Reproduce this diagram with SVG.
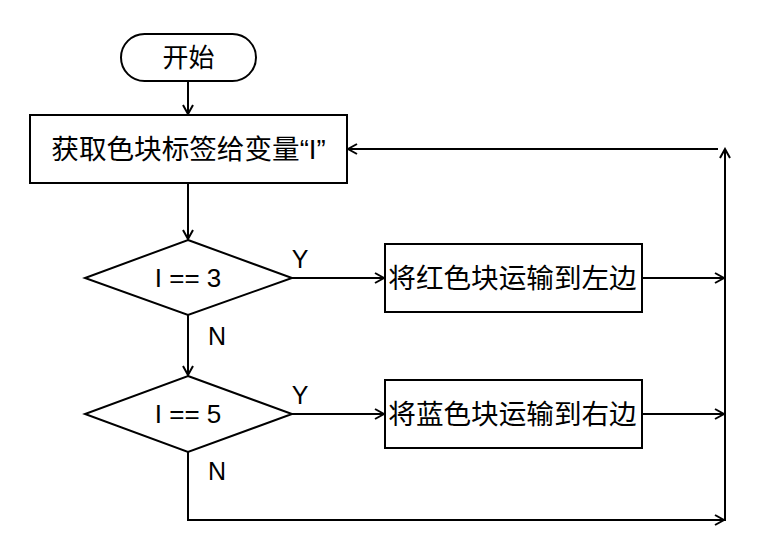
<svg xmlns="http://www.w3.org/2000/svg" width="775" height="558" viewBox="0 0 775 558">
<style>
.shape{fill:#fff;stroke:#000;stroke-width:2}
.line{fill:none;stroke:#000;stroke-width:2}
.cjk{font-family:"Liberation Sans","Noto Sans CJK SC",sans-serif;font-size:27.6px;fill:#000;text-anchor:middle;dominant-baseline:central}
.lat{font-family:"Liberation Sans",Arial,sans-serif;font-size:26px;fill:#000;text-anchor:middle;dominant-baseline:central}
.lbl{font-family:"Liberation Sans",Arial,sans-serif;font-size:25px;fill:#000}
</style>
<defs>
<marker id="arr" markerUnits="userSpaceOnUse" markerWidth="12" markerHeight="12" viewBox="0 0 12 12" refX="10" refY="6" orient="auto">
<path d="M1,1 L10,6 L1,11" fill="none" stroke="#000" stroke-width="2"/>
</marker>
</defs>
<rect width="775" height="558" fill="#fff"/>
<g id="start">
<rect class="shape" x="121" y="34" width="135" height="47" rx="23.5" ry="23.5"/>
<text class="cjk" x="188.5" y="57.5" style="font-size:26px">开始</text>
</g>
<g id="get">
<rect class="shape" x="30" y="115" width="317" height="68"/>
<text class="cjk" x="188.5" y="149">获取色块标签给变量“I”</text>
</g>
<g id="dec1">
<polygon class="shape" points="188,240 292,278 188,315 85,278"/>
<text class="lat" x="188" y="278">I == 3</text>
</g>
<g id="red">
<rect class="shape" x="385" y="244" width="257" height="68"/>
<text class="cjk" x="512.5" y="278">将红色块运输到左边</text>
</g>
<g id="dec2">
<polygon class="shape" points="188,376 292,414 188,452 85,414"/>
<text class="lat" x="188" y="414">I == 5</text>
</g>
<g id="blue">
<rect class="shape" x="385" y="380" width="257" height="68"/>
<text class="cjk" x="512.5" y="414">将蓝色块运输到右边</text>
</g>
<g id="connectors">
<line class="line" x1="188" y1="81" x2="188" y2="114" marker-end="url(#arr)"/>
<line class="line" x1="188" y1="183" x2="188" y2="239" marker-end="url(#arr)"/>
<line class="line" x1="292" y1="278" x2="384" y2="278" marker-end="url(#arr)"/>
<line class="line" x1="188" y1="315" x2="188" y2="375" marker-end="url(#arr)"/>
<line class="line" x1="292" y1="414" x2="384" y2="414" marker-end="url(#arr)"/>
<line class="line" x1="642" y1="278" x2="724" y2="278" marker-end="url(#arr)"/>
<line class="line" x1="642" y1="414" x2="724" y2="414" marker-end="url(#arr)"/>
<polyline class="line" points="188,452 188,520 724,520" marker-end="url(#arr)"/>
<line class="line" x1="725" y1="521" x2="725" y2="149" marker-end="url(#arr)"/>
<line class="line" x1="718" y1="149" x2="348" y2="149" marker-end="url(#arr)"/>
<text class="lbl" x="300" y="268" text-anchor="middle">Y</text>
<text class="lbl" x="217" y="345" text-anchor="middle">N</text>
<text class="lbl" x="300" y="404" text-anchor="middle">Y</text>
<text class="lbl" x="217" y="480" text-anchor="middle">N</text>
</g>
</svg>
